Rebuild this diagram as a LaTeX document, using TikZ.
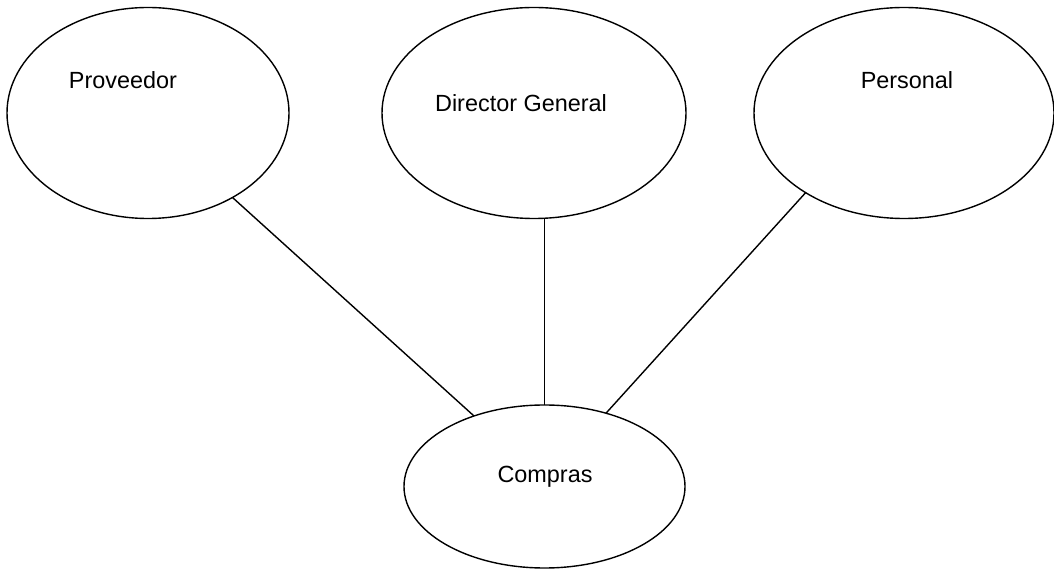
\documentclass[tikz,border=0pt]{standalone}
\usepackage{fontspec}
\setmainfont{Liberation Sans}
\usetikzlibrary{shapes.geometric}
\tikzset{
  entity/.style={draw,ellipse,inner sep=0pt,outer sep=0pt,line width=1.4bp},
  tag/.style={inner sep=0pt,font=\fontsize{23.5}{28}\selectfont},
}
\begin{document}
\begin{tikzpicture}[line join=bevel]
  \useasboundingbox (0bp,0bp) rectangle (1054bp,569bp);
  \pgfsetlinewidth{1.4bp}
%%
  % Node: prov
  \node[entity,minimum width=282bp,minimum height=211bp] (prov) at (148bp,456bp) {};
  \node[tag] (provtxt) at (123bp,489bp) {Proveedor};
  % Node: dirgen
  \node[entity,minimum width=304bp,minimum height=211bp] (dirgen) at (534bp,456bp) {};
  \node[tag] (dirgentxt) at (521bp,466bp) {Director General};
  % Node: pers
  \node[entity,minimum width=300bp,minimum height=211bp] (pers) at (904bp,456bp) {};
  \node[tag] (perstxt) at (907bp,489bp) {Personal};
  % Node: comp
  \node[entity,minimum width=281bp,minimum height=163bp] (comp) at (544.5bp,82.5bp) {};
  \node[tag] (comptxt) at (545bp,92bp) {Compras};
  % Edge: prov -- comp
  \draw (prov.-45.7) -- (comp.135.4);
  % Edge: dirgen -- comp
  \draw (comp.north |- dirgen.south) -- (comp.north);
  % Edge: pers -- comp
  \draw (pers.219) -- (comp.50.2);
%
\end{tikzpicture}
\end{document}
